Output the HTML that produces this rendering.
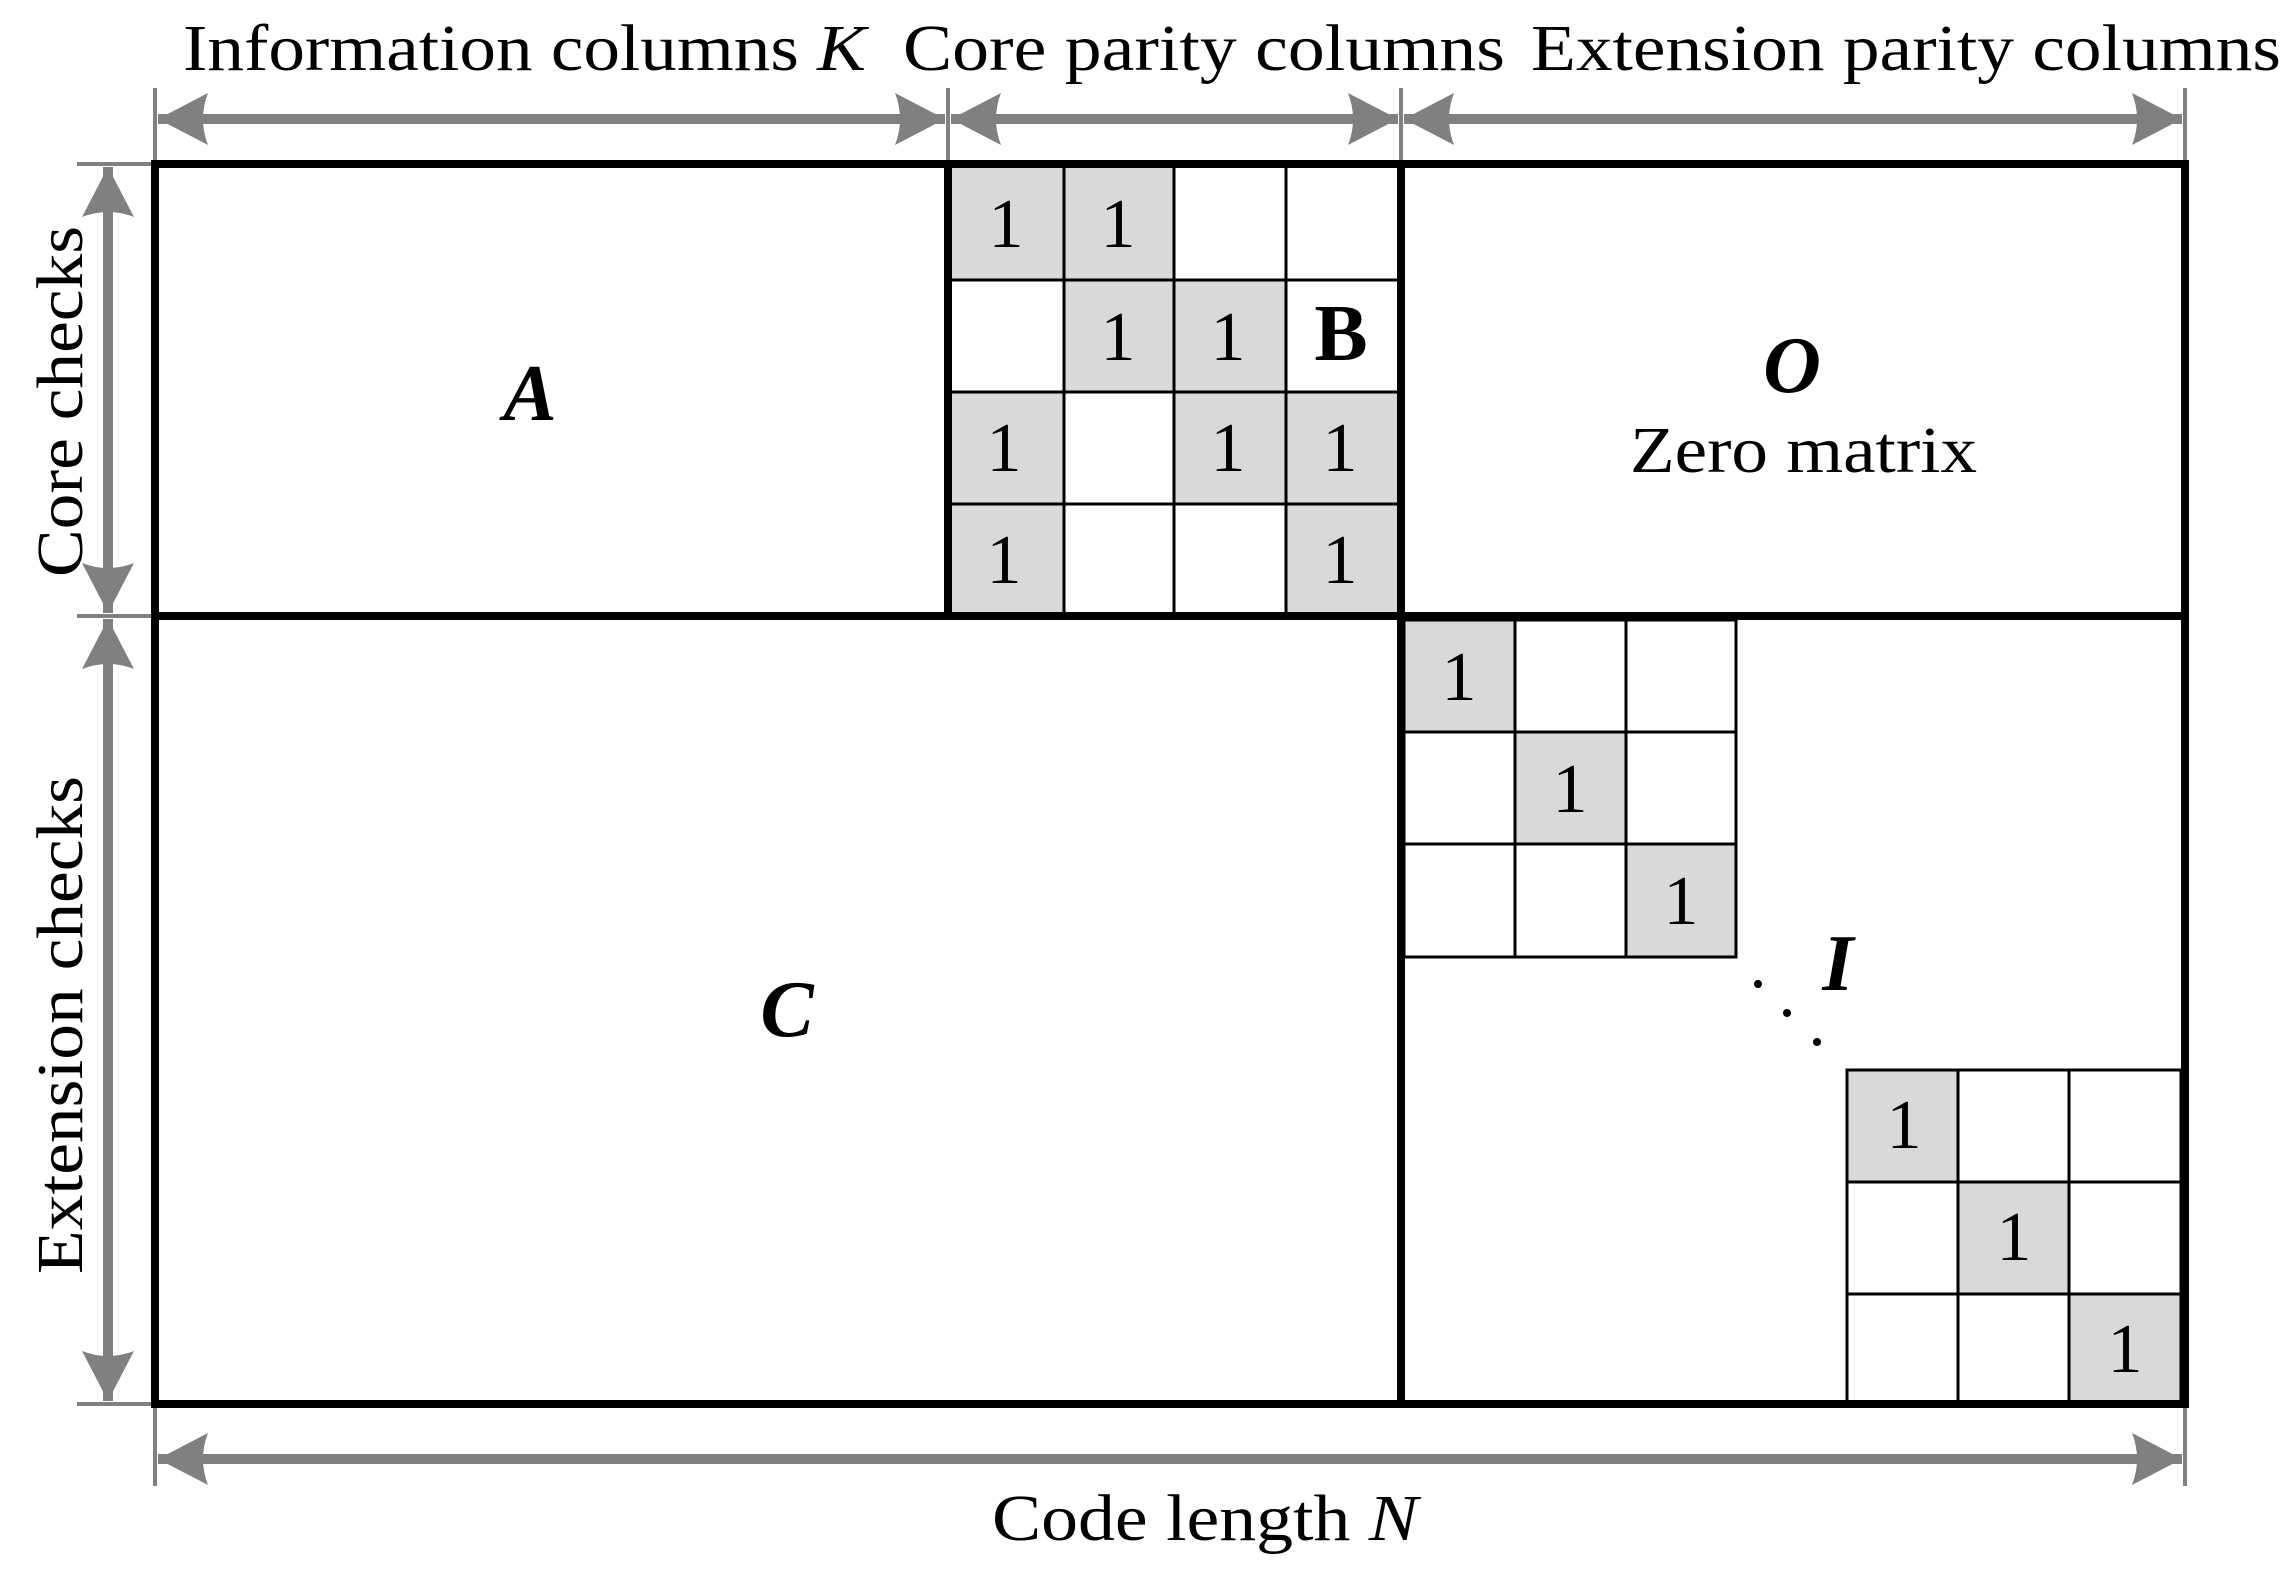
<!DOCTYPE html>
<html><head><style>body{margin:0;background:#fff}svg{display:block}</style></head><body>
<svg width="2295" height="1582" viewBox="0 0 2295 1582" xmlns="http://www.w3.org/2000/svg" font-family="'Liberation Serif', serif">
<defs>
<marker id="ah" viewBox="0 0 50 52" refX="50" refY="26" markerWidth="50" markerHeight="52" markerUnits="userSpaceOnUse" orient="auto-start-reverse">
<path d="M50,26 L0,0 Q10,26 0,52 Z" fill="#808080"/>
</marker>
</defs>
<g stroke="#808080" stroke-width="4">
<line x1="155" y1="88" x2="155" y2="164"/>
<line x1="948" y1="88" x2="948" y2="164"/>
<line x1="1401" y1="88" x2="1401" y2="164"/>
<line x1="2185" y1="88" x2="2185" y2="164"/>
<line x1="77" y1="164" x2="155" y2="164"/>
<line x1="77" y1="616" x2="155" y2="616"/>
<line x1="77" y1="1404" x2="155" y2="1404"/>
<line x1="155" y1="1404" x2="155" y2="1486"/>
<line x1="2185" y1="1404" x2="2185" y2="1486"/>
</g>
<g stroke="#808080" stroke-width="10" marker-start="url(#ah)" marker-end="url(#ah)">
<line x1="158" y1="119" x2="945" y2="119"/>
<line x1="951" y1="119" x2="1398" y2="119"/>
<line x1="1404" y1="119" x2="2182" y2="119"/>
<line x1="108" y1="167" x2="108" y2="613"/>
<line x1="108" y1="619" x2="108" y2="1401"/>
<line x1="158" y1="1459" x2="2182" y2="1459"/>
</g>
<g fill="#d9d9d9">
<rect x="948" y="164" width="116" height="116"/><rect x="1064" y="164" width="110" height="116"/>
<rect x="1064" y="280" width="110" height="112"/><rect x="1174" y="280" width="112" height="112"/>
<rect x="948" y="392" width="116" height="112"/><rect x="1174" y="392" width="112" height="112"/><rect x="1286" y="392" width="115" height="112"/>
<rect x="948" y="504" width="116" height="113"/><rect x="1286" y="504" width="115" height="113"/>
<rect x="1404" y="620" width="111" height="112"/><rect x="1515" y="732" width="111" height="112"/><rect x="1626" y="844" width="110" height="113"/>
<rect x="1847" y="1070" width="111" height="112"/><rect x="1958" y="1182" width="111" height="112"/><rect x="2069" y="1294" width="112" height="108"/>
</g>
<g stroke="#000" stroke-width="3" fill="none">
<line x1="1064" y1="164" x2="1064" y2="616"/><line x1="1174" y1="164" x2="1174" y2="616"/><line x1="1286" y1="164" x2="1286" y2="616"/>
<line x1="948" y1="280" x2="1401" y2="280"/><line x1="948" y1="392" x2="1401" y2="392"/><line x1="948" y1="504" x2="1401" y2="504"/>
<rect x="1404" y="620" width="332" height="337"/>
<line x1="1515" y1="620" x2="1515" y2="957"/><line x1="1626" y1="620" x2="1626" y2="957"/>
<line x1="1404" y1="732" x2="1736" y2="732"/><line x1="1404" y1="844" x2="1736" y2="844"/>
<rect x="1847" y="1070" width="334" height="334"/>
<line x1="1958" y1="1070" x2="1958" y2="1404"/><line x1="2069" y1="1070" x2="2069" y2="1404"/>
<line x1="1847" y1="1182" x2="2181" y2="1182"/><line x1="1847" y1="1294" x2="2181" y2="1294"/>
</g>
<g stroke="#000" stroke-width="8" fill="none">
<rect x="155" y="164" width="2030" height="1240"/>
<line x1="155" y1="616" x2="2185" y2="616"/>
<line x1="948" y1="164" x2="948" y2="616"/>
<line x1="1401" y1="164" x2="1401" y2="1404"/>
</g>
<g font-size="70" text-anchor="middle">
<text x="1006" y="247">1</text><text x="1118" y="247">1</text>
<text x="1118" y="360">1</text><text x="1228" y="360">1</text>
<text x="1004" y="471">1</text><text x="1228" y="471">1</text><text x="1340" y="471">1</text>
<text x="1004" y="583">1</text><text x="1340" y="583">1</text>
<text x="1459" y="700">1</text><text x="1570" y="812">1</text><text x="1681" y="924">1</text>
<text x="1904" y="1148">1</text><text x="2014" y="1260">1</text><text x="2125" y="1372">1</text>
</g>
<g font-size="66" fill="#000">
<text x="183" y="70" textLength="683" lengthAdjust="spacingAndGlyphs">Information columns <tspan font-style="italic">K</tspan></text>
<text x="903" y="70" textLength="602" lengthAdjust="spacingAndGlyphs">Core parity columns</text>
<text x="1531" y="70" textLength="750" lengthAdjust="spacingAndGlyphs">Extension parity columns</text>
<text x="992" y="1540" textLength="426" lengthAdjust="spacingAndGlyphs">Code length <tspan font-style="italic">N</tspan></text>
<text transform="translate(82,402) rotate(-90)" x="-175" textLength="351" lengthAdjust="spacingAndGlyphs">Core checks</text>
<text transform="translate(82,1025) rotate(-90)" x="-249" textLength="498" lengthAdjust="spacingAndGlyphs">Extension checks</text>
<text x="1630" y="472" textLength="347" lengthAdjust="spacingAndGlyphs">Zero matrix</text>
</g>
<g font-size="80" font-weight="bold" text-anchor="middle">
<text x="530" y="420" font-style="italic">A</text>
<text x="1341" y="360">B</text>
<text x="1792" y="392" font-style="italic">O</text>
<text x="787" y="1036" font-style="italic">C</text>
<text x="1838" y="990" font-style="italic">I</text>
</g>
<g fill="#000"><circle cx="1758" cy="984" r="4"/><circle cx="1787" cy="1013" r="4"/><circle cx="1817" cy="1042" r="4"/></g>
</svg>
</body></html>
